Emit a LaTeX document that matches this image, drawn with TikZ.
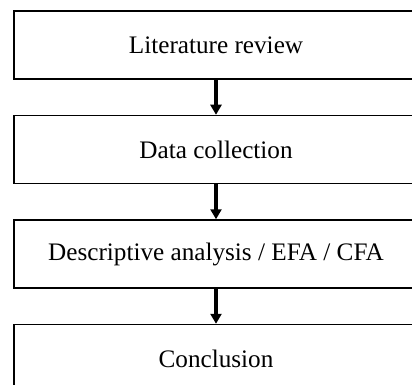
\documentclass[tikz,border=0pt]{standalone}
\usepackage{fontspec}
\setmainfont{Liberation Serif}
\usetikzlibrary{arrows.meta,positioning}

\begin{document}
\begin{tikzpicture}[
    % Block styles
    stageblock/.style={
        rectangle,
        draw=black,
        line width=0.75pt,
        minimum height=34pt,
        minimum width=202pt,
        align=center,
        font=\fontsize{12.6}{15}\selectfont
    },
    line/.style={draw, line width=2pt, -{Triangle[width=5.5pt,length=5pt]}}
]
\useasboundingbox (0,0) rectangle (206pt,-192.5pt);

% Stages
\node[stageblock] (review) at (108pt,-22.5pt) {Literature review};
\node[stageblock, below=17.5pt of review] (collection) {Data collection};
\node[stageblock, below=17.5pt of collection] (analysis) {Descriptive analysis / EFA / CFA};
\node[stageblock, below=17.5pt of analysis] (conclusion) {Conclusion};

% Connections
\draw[line] (review) -- (collection);
\draw[line] (collection) -- (analysis);
\draw[line] (analysis) -- (conclusion);

\end{tikzpicture}
\end{document}
